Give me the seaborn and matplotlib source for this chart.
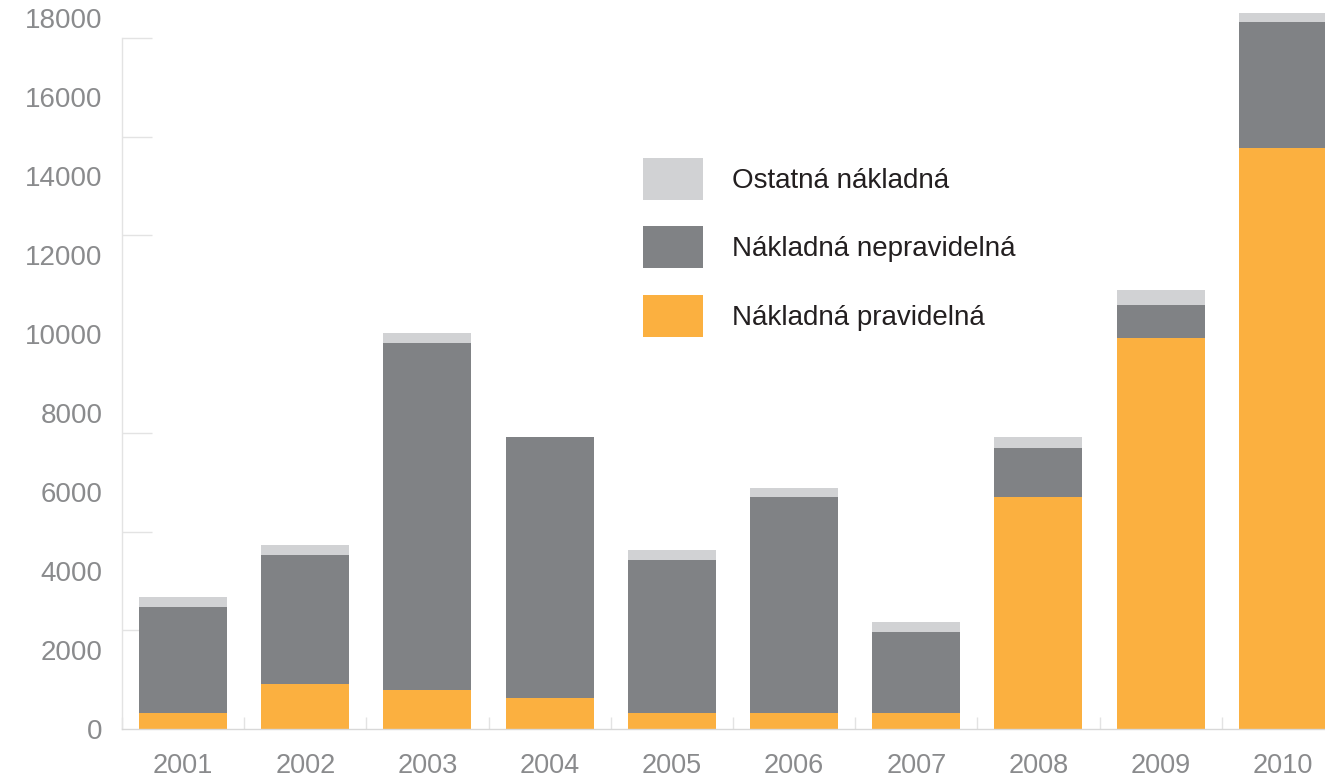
import matplotlib
matplotlib.use("Agg")
import matplotlib.pyplot as plt
from matplotlib.patches import Patch
from matplotlib.ticker import MultipleLocator, FixedLocator
import seaborn as sns
import numpy as np
import pandas as pd

years = ["2001", "2002", "2003", "2004", "2005", "2006", "2007", "2008", "2009", "2010"]
pravidelna = [400, 1140, 990, 785, 405, 405, 405, 5875, 9900, 14710]
nepravidelna = [2690, 3265, 8785, 6610, 3875, 5470, 2050, 1240, 835, 3190]
ostatni = [250, 255, 255, 0, 255, 230, 255, 280, 380, 230]
series_names = ["Nákladná pravidelná", "Nákladná nepravidelná", "Ostatná nákladná"]
colors = ["#FBB040", "#808285", "#D1D2D4"]
ytick_values = list(range(0, 18001, 2000))

sns.set_theme(style="white")
plt.rcParams['font.family'] = ['Liberation Sans', 'DejaVu Sans']

W, H = 1325, 776
fig = plt.figure(figsize=(W / 100, H / 100), dpi=100)
ax = fig.add_axes([122 / W, (H - 729) / H, (W - 122) / W, 729 / H])

df = pd.DataFrame({"year": years, "p": pravidelna, "n": nepravidelna, "o": ostatni})
df["c1"] = df["p"]
df["c2"] = df["p"] + df["n"]
df["c3"] = df["c2"] + df["o"]

for col, color in zip(["c3", "c2", "c1"], [colors[2], colors[1], colors[0]]):
    sns.barplot(data=df, x="year", y=col, color=color, saturation=1, width=0.72,
                linewidth=0, ax=ax)

ax.set_xlim(-0.5, 9.345)
ax.set_ylim(0, 18460)
ax.set_xlabel("")
ax.set_ylabel("")

for s in ["top", "right"]:
    ax.spines[s].set_visible(False)
ax.spines["left"].set_color("#e3e3e3")
ax.spines["left"].set_linewidth(1.0)
ax.spines["left"].set_bounds(0, 17500)
ax.spines["bottom"].set_color("#d8d8d8")
ax.spines["bottom"].set_linewidth(1.0)

ax.set_yticks(ytick_values)
ax.set_yticklabels([str(v) for v in ytick_values])
ax.yaxis.set_minor_locator(MultipleLocator(2500))
ax.tick_params(axis="y", which="major", length=0, pad=14, labelsize=20, labelcolor="#8a8b8d")
ax.tick_params(axis="y", which="minor", direction="in", length=21.6, width=1, color="#e3e3e3", left=True)

ax.xaxis.set_minor_locator(FixedLocator(np.arange(-0.5, 10, 1.0)))
ax.tick_params(axis="x", which="major", length=0, pad=17, labelsize=19.5, labelcolor="#8a8b8d")
ax.tick_params(axis="x", which="minor", direction="in", length=8.6, width=1, color="#e3e3e3", bottom=True)

for b in ax.patches:
    b.set_clip_on(False)

handles = [Patch(facecolor=colors[2], edgecolor="none"),
           Patch(facecolor=colors[1], edgecolor="none"),
           Patch(facecolor=colors[0], edgecolor="none")]
labels = [series_names[2], series_names[1], series_names[0]]
fs = 20
fpx = fs * 100 / 72
leg = fig.legend(handles, labels, loc="upper left",
                 bbox_to_anchor=(643 / W, 1 - 158 / H), bbox_transform=fig.transFigure,
                 frameon=False, fontsize=fs, borderpad=0, borderaxespad=0,
                 handlelength=60 / fpx, handleheight=54 / fpx,
                 handletextpad=29 / fpx, labelspacing=26.5 / fpx)
for t in leg.get_texts():
    t.set_color("#231f20")

fig.savefig("out.png", dpi=100)
